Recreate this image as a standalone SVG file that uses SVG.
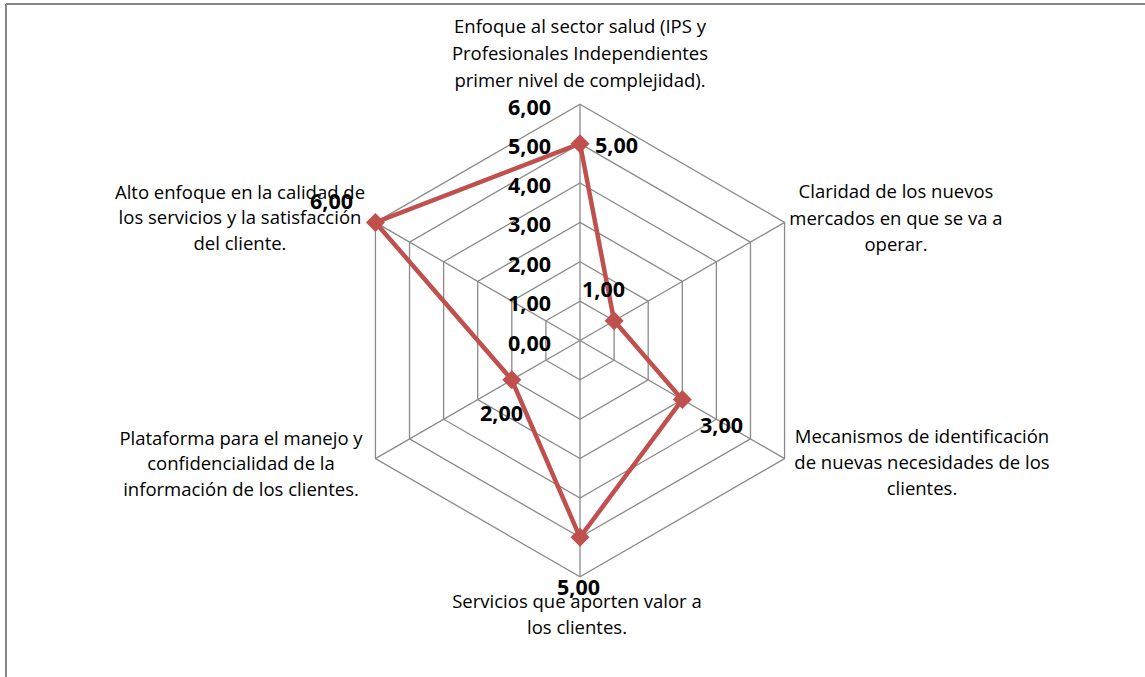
<svg xmlns="http://www.w3.org/2000/svg" xmlns:xlink="http://www.w3.org/1999/xlink" width="1145" height="677" viewBox="0 0 1145 677">
  <style>
    .frame { stroke: #878787; stroke-width: 2; fill: none; }
    .grid { stroke: #8a8a8a; stroke-width: 1.3; fill: none; }
    .series { stroke: #C0504D; stroke-width: 4.5; fill: none; stroke-linejoin: miter; }
    .pt { fill: #C0504D; }
    .cat { font-family: "Open Sans", Lato, sans-serif; font-size: 18.5px; fill: #000; text-anchor: middle; }
    .tick { font-family: "Open Sans", Lato, sans-serif; font-size: 21.5px; font-weight: bold; fill: #000; text-anchor: end; }
    .val { font-family: "Open Sans", Lato, sans-serif; font-size: 21.5px; font-weight: bold; fill: #000; }
  </style>
  <defs>
    <polygon id="diamond" points="0,-9.5 9.5,0 0,9.5 -9.5,0"/>
  </defs>
  <rect width="1145" height="677" fill="#ffffff"/>

  <!-- chart area border (top and left edges) -->
  <g id="frame">
    <line class="frame" x1="6" y1="4" x2="1145" y2="4"/>
    <line class="frame" x1="6" y1="4" x2="6" y2="677"/>
  </g>

  <!-- radar grid: six rings of one unit each plus spokes -->
  <g id="grid">
    <polygon class="grid" points="580,301.13 614.10,320.81 614.10,360.19 580,379.87 545.90,360.19 545.90,320.81"/>
    <polygon class="grid" points="580,261.76 648.19,301.13 648.19,379.87 580,419.24 511.81,379.87 511.81,301.13"/>
    <polygon class="grid" points="580,222.39 682.29,281.44 682.29,399.56 580,458.61 477.71,399.56 477.71,281.44"/>
    <polygon class="grid" points="580,183.02 716.38,261.76 716.38,419.24 580,497.98 443.62,419.24 443.62,261.76"/>
    <polygon class="grid" points="580,143.65 750.48,242.07 750.48,438.93 580,537.35 409.52,438.93 409.52,242.07"/>
    <polygon class="grid" points="580,104.28 784.57,222.39 784.57,458.61 580,576.72 375.43,458.61 375.43,222.39"/>
    <line class="grid" x1="580" y1="340.5" x2="580" y2="104.28"/>
    <line class="grid" x1="580" y1="340.5" x2="784.57" y2="222.39"/>
    <line class="grid" x1="580" y1="340.5" x2="784.57" y2="458.61"/>
    <line class="grid" x1="580" y1="340.5" x2="580" y2="576.72"/>
    <line class="grid" x1="580" y1="340.5" x2="375.43" y2="458.61"/>
    <line class="grid" x1="580" y1="340.5" x2="375.43" y2="222.39"/>
  </g>

  <!-- value axis labels -->
  <g id="axis-ticks">
    <text class="tick" x="551" y="115">6,00</text>
    <text class="tick" x="551" y="154">5,00</text>
    <text class="tick" x="551" y="193">4,00</text>
    <text class="tick" x="551" y="232">3,00</text>
    <text class="tick" x="551" y="272">2,00</text>
    <text class="tick" x="551" y="311">1,00</text>
    <text class="tick" x="551" y="351">0,00</text>
  </g>

  <!-- data series -->
  <g id="connectors">
    <polygon class="series" points="580,143.65 614.10,320.81 682.29,399.56 580,537.35 511.81,379.87 375.43,222.39"/>
  </g>

  <g id="point-top"><use xlink:href="#diamond" class="pt" x="580" y="143.65"/><text class="val" x="595" y="153">5,00</text></g>
  <g id="point-ur"><use xlink:href="#diamond" class="pt" x="614.10" y="320.81"/><text class="val" x="582" y="297">1,00</text></g>
  <g id="point-lr"><use xlink:href="#diamond" class="pt" x="682.29" y="399.56"/><text class="val" x="700" y="433">3,00</text></g>
  <g id="point-bottom"><use xlink:href="#diamond" class="pt" x="580" y="537.35"/><text class="val" x="557" y="595">5,00</text></g>
  <g id="point-ll"><use xlink:href="#diamond" class="pt" x="511.81" y="379.87"/><text class="val" x="480" y="421">2,00</text></g>
  <g id="point-ul"><use xlink:href="#diamond" class="pt" x="375.43" y="222.39"/><text class="val" x="310" y="209">6,00</text></g>

  <!-- category labels -->
  <g id="label-top">
    <text class="cat" x="580" y="33">Enfoque al sector salud (IPS y</text>
    <text class="cat" x="580" y="60">Profesionales Independientes</text>
    <text class="cat" x="580" y="87">primer nivel de complejidad).</text>
  </g>
  <g id="label-ur">
    <text class="cat" x="896" y="198">Claridad de los nuevos</text>
    <text class="cat" x="896" y="225">mercados en que se va a</text>
    <text class="cat" x="896" y="251">operar.</text>
  </g>
  <g id="label-lr">
    <text class="cat" x="922" y="443">Mecanismos de identificación</text>
    <text class="cat" x="922" y="469">de nuevas necesidades de los</text>
    <text class="cat" x="922" y="495">clientes.</text>
  </g>
  <g id="label-bottom">
    <text class="cat" x="577" y="608">Servicios que aporten valor a</text>
    <text class="cat" x="577" y="634">los clientes.</text>
  </g>
  <g id="label-ll">
    <text class="cat" x="241" y="445">Plataforma para el manejo  y</text>
    <text class="cat" x="241" y="470">confidencialidad de la</text>
    <text class="cat" x="241" y="496">información de los clientes.</text>
  </g>
  <g id="label-ul">
    <text class="cat" x="240" y="199">Alto enfoque en la calidad de</text>
    <text class="cat" x="240" y="224">los servicios y la satisfacción</text>
    <text class="cat" x="240" y="250">del cliente.</text>
  </g>
</svg>
